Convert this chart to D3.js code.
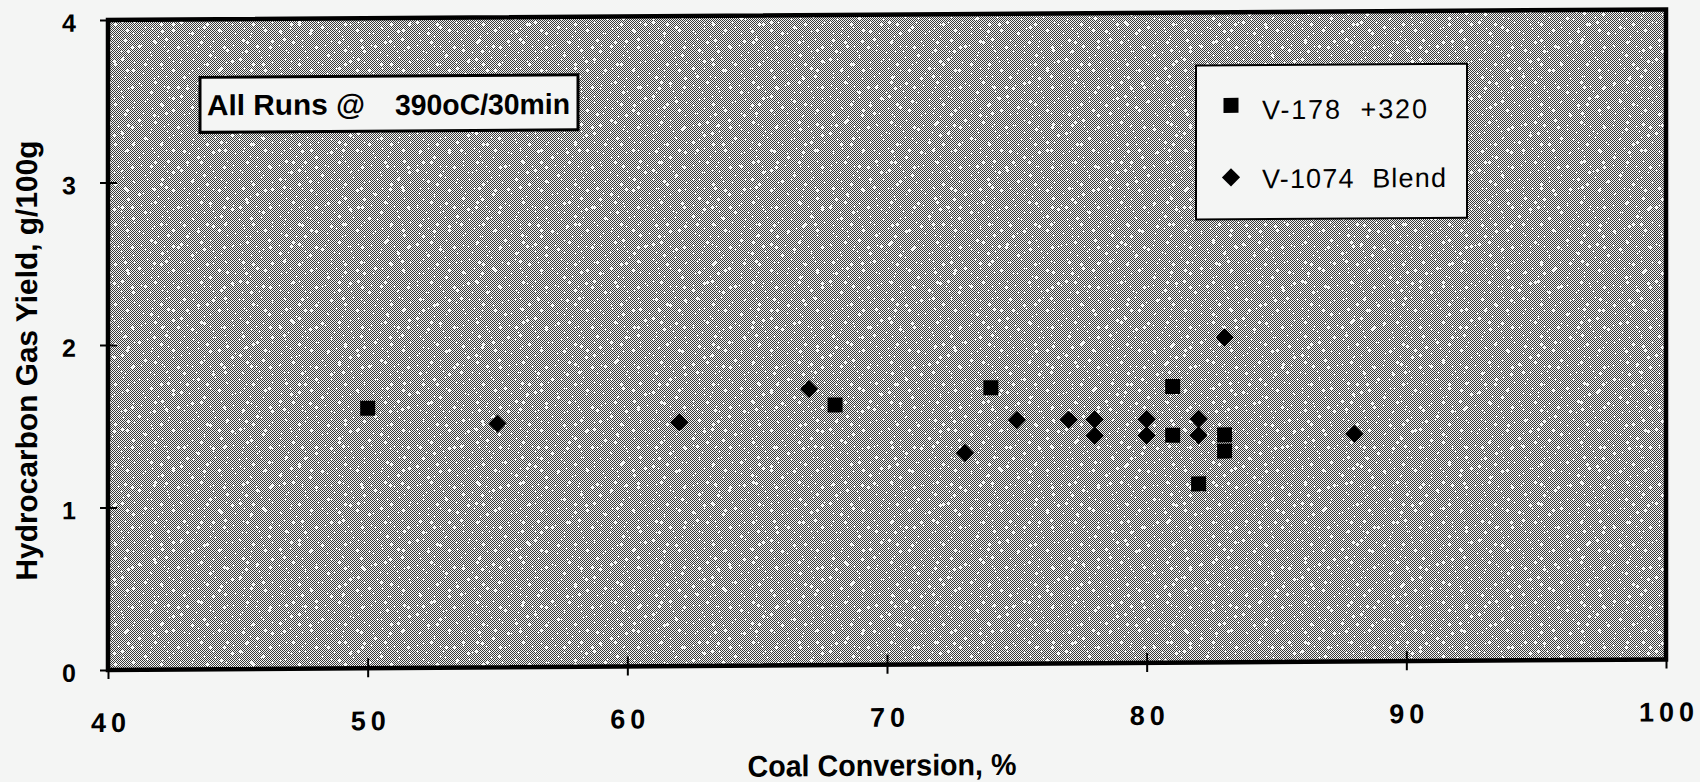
<!DOCTYPE html>
<html><head><meta charset="utf-8">
<script src="https://cdn.jsdelivr.net/npm/d3@7"></script>
<style>
html,body{margin:0;padding:0;background:#f4f5f4;}
svg{display:block;}
text{font-family:"Liberation Sans",Arial,Helvetica,sans-serif;fill:#000;}
</style></head><body>
<svg id="chart" width="1700" height="782"></svg>
<script>
// ---- data ----
const xTicks = [40, 50, 60, 70, 80, 90, 100];
const yTicks = [0, 1, 2, 3, 4];
const seriesNames = ["V-178  +320", "V-1074  Blend"];
const sqX = [50, 68, 74, 81, 81, 82, 83, 83];
const sqY = [1.6, 1.6, 1.7, 1.7, 1.4, 1.1, 1.4, 1.3];
const diX = [55, 62, 67, 73, 75, 77, 78, 78, 80, 80, 82, 82, 83, 88];
const diY = [1.5, 1.5, 1.7, 1.3, 1.5, 1.5, 1.5, 1.4, 1.5, 1.4, 1.5, 1.4, 2.0, 1.4];
const xTitle = "Coal Conversion, %";
const yTitle = "Hydrocarbon Gas Yield, g/100g";
const note1 = "All Runs @", note2 = "390oC/30min";

// ---- layout ----
const svg = d3.select("#chart");
const L = 108, R = 1666, T = 20, B = 670;
const k = 0.0068, theta = Math.atan(k) * 180 / Math.PI;
const x = d3.scaleLinear().domain([40, 100]).range([L, R]);
const y = d3.scaleLinear().domain([0, 4]).range([B, T]);
const BG = "#f4f5f4";
const patT = `skewY(${theta}) translate(0,${-k * L})`;

const defs = svg.append("defs");
const pat = defs.append("pattern").attr("id", "dither")
  .attr("patternUnits", "userSpaceOnUse").attr("width", 2).attr("height", 2)
  .attr("patternTransform", patT);
pat.append("rect").attr("width", 2).attr("height", 2).attr("fill", BG);
pat.append("rect").attr("width", 1).attr("height", 1).attr("fill", "#3a3a3a");
pat.append("rect").attr("x", 1).attr("y", 1).attr("width", 1).attr("height", 1).attr("fill", "#3a3a3a");

// decorative white speckles of the halftone scan (two tiles of coprime size)
const speckTiles = [
  { id: "speckA", w: 46, h: 40, spots: [[3,5],[17,2],[29,11],[40,7],[9,19],[23,24],[35,30],[5,33],[14,28],[42,22],[31,17],[20,36],[26,6],[12,12]] },
  { id: "speckB", w: 59, h: 37, spots: [[7,3],[21,9],[36,4],[50,13],[4,22],[27,27],[44,31],[55,24],[15,33],[33,18],[48,2],[10,14]] }
];
speckTiles.forEach(t => {
  const sp = defs.append("pattern").attr("id", t.id)
    .attr("patternUnits", "userSpaceOnUse").attr("width", t.w).attr("height", t.h)
    .attr("patternTransform", patT);
  t.spots.forEach(([a, b]) => {
    sp.append("rect").attr("x", a - 1).attr("y", b).attr("width", 3).attr("height", 1).attr("fill", BG);
    sp.append("rect").attr("x", a).attr("y", b - 1).attr("width", 1).attr("height", 3).attr("fill", BG);
  });
});

const g = svg.append("g").attr("transform", `translate(0,${k * L}) skewY(${-theta})`);

["dither", "speckA", "speckB"].forEach(id =>
  g.append("rect").attr("x", L).attr("y", T).attr("width", R - L).attr("height", B - T).attr("fill", `url(#${id})`));

// axes
const gx = g.append("g").attr("transform", `translate(0,${B})`)
  .call(d3.axisBottom(x).tickValues(xTicks).tickSize(9).tickFormat(d3.format("d")));
gx.select(".domain").remove();
gx.selectAll(".tick line").attr("y1", -10).attr("y2", 9).attr("stroke", "#000").attr("stroke-width", 2);
gx.selectAll(".tick text").attr("y", 62).attr("dy", 0).attr("font-size", 27)
  .attr("font-weight", "bold").attr("letter-spacing", 5).attr("dx", 2.5);

const gy = g.append("g").attr("transform", `translate(${L},0)`)
  .call(d3.axisLeft(y).tickValues(yTicks).tickSize(8).tickFormat(d3.format("d")));
gy.select(".domain").remove();
gy.selectAll(".tick line").attr("x1", 9).attr("x2", -8).attr("stroke", "#000").attr("stroke-width", 2);
gy.selectAll(".tick text").attr("x", -32).attr("dy", 11).attr("font-size", 25).attr("font-weight", "bold");

// frame
g.append("rect").attr("x", L).attr("y", T).attr("width", R - L).attr("height", B - T)
  .attr("fill", "none").attr("stroke", "#000").attr("stroke-width", 4.5);

// data
const sqSym = d3.symbol(d3.symbolSquare, 225);
const diSym = d3.symbol(d3.symbolSquare, 165);
g.append("g").selectAll("path").data(d3.zip(sqX, sqY)).join("path")
  .attr("d", sqSym).attr("fill", "#000")
  .attr("transform", d => `translate(${x(d[0])},${y(d[1])})`);
g.append("g").selectAll("path").data(d3.zip(diX, diY)).join("path")
  .attr("d", diSym).attr("fill", "#000")
  .attr("transform", d => `translate(${x(d[0])},${y(d[1])}) rotate(45)`);

// annotation box
g.append("rect").attr("x", 200).attr("y", 78).attr("width", 378).attr("height", 55)
  .attr("fill", BG).attr("stroke", "#000").attr("stroke-width", 3);
g.append("text").attr("x", 207).attr("y", 116).attr("font-size", 29).attr("font-weight", "bold")
  .attr("textLength", 158).attr("lengthAdjust", "spacingAndGlyphs").text(note1);
g.append("text").attr("x", 395).attr("y", 117).attr("font-size", 29).attr("font-weight", "bold")
  .attr("textLength", 175).attr("lengthAdjust", "spacingAndGlyphs").text(note2);

// legend
const lg = g.append("g");
lg.append("rect").attr("x", 1196).attr("y", 73).attr("width", 271).attr("height", 154)
  .attr("fill", BG).attr("stroke", "#000").attr("stroke-width", 2);
lg.append("path").attr("d", sqSym).attr("fill", "#000").attr("transform", "translate(1231,113)");
lg.append("path").attr("d", diSym).attr("fill", "#000").attr("transform", "translate(1231,185) rotate(45)");
lg.append("text").attr("x", 1262).attr("y", 127).attr("font-size", 27).attr("xml:space", "preserve")
  .attr("textLength", 165).attr("lengthAdjust", "spacing").text(seriesNames[0]);
lg.append("text").attr("x", 1262).attr("y", 196).attr("font-size", 27).attr("xml:space", "preserve")
  .attr("textLength", 184).attr("lengthAdjust", "spacing").text(seriesNames[1]);

// titles
g.append("text").attr("x", 882).attr("y", 781).attr("text-anchor", "middle")
  .attr("font-size", 30).attr("font-weight", "bold")
  .attr("textLength", 269).attr("lengthAdjust", "spacingAndGlyphs").text(xTitle);
g.append("text").attr("transform", "translate(37,360) rotate(-90)").attr("text-anchor", "middle")
  .attr("font-size", 30).attr("font-weight", "bold")
  .attr("textLength", 440).attr("lengthAdjust", "spacingAndGlyphs").text(yTitle);
</script>
</body></html>
